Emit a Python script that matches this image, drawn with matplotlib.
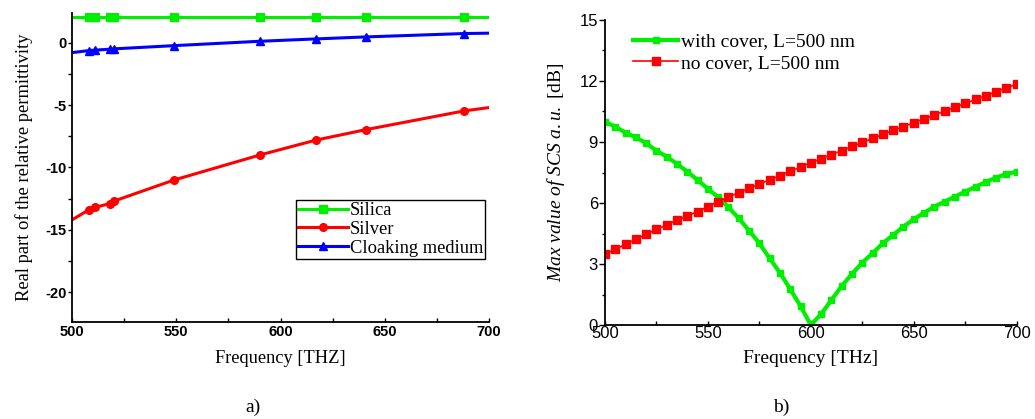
import numpy as np
import matplotlib.pyplot as plt
from matplotlib.ticker import MultipleLocator

plt.rcParams['mathtext.fontset'] = 'custom'
plt.rcParams['mathtext.rm'] = 'Liberation Serif'
plt.rcParams['mathtext.it'] = 'Liberation Serif:italic'
plt.rcParams['axes.unicode_minus'] = False

# a) real part of relative permittivity
freq_a = [500, 508, 511, 518, 520, 549, 590, 617, 641, 688, 700]
silica = [2.1, 2.1, 2.1, 2.1, 2.1, 2.1, 2.1, 2.1, 2.1, 2.1, 2.1]
silver = [-14.2, -13.4, -13.2, -12.9, -12.7, -11.0, -9.0, -7.8, -6.96, -5.46, -5.19]
cloak = [-0.78, -0.62, -0.58, -0.51, -0.48, -0.22, 0.13, 0.32, 0.48, 0.75, 0.78]
marks_a = [1, 2, 3, 4, 5, 6, 7, 8, 9]

# b) max value of SCS
freq_b = list(range(500, 701, 5))
with_cover = [10.0, 9.75, 9.46, 9.23, 8.94, 8.57, 8.28, 7.92, 7.54, 7.13,
              6.70, 6.28, 5.79, 5.25, 4.64, 4.02, 3.28, 2.57, 1.76, 0.93,
              0.0, 0.54, 1.23, 1.92, 2.51, 3.07, 3.53, 4.02, 4.43, 4.84,
              5.20, 5.52, 5.82, 6.07, 6.31, 6.56, 6.80, 7.03, 7.25, 7.43, 7.54]
no_cover = [3.48, 3.72, 3.97, 4.22, 4.46, 4.70, 4.93, 5.15, 5.37, 5.58,
            5.82, 6.07, 6.30, 6.51, 6.72, 6.93, 7.14, 7.35, 7.56, 7.77,
            7.98, 8.18, 8.38, 8.58, 8.78, 8.98, 9.18, 9.37, 9.57, 9.76,
            9.95, 10.14, 10.33, 10.52, 10.71, 10.90, 11.09, 11.28, 11.47, 11.66, 11.85]

GREEN = '#00ee00'
RED = '#ff0000'
BLUE = '#0000ff'
serif = 'Liberation Serif'
sans = 'Liberation Sans'

fig = plt.figure(figsize=(10.35, 4.19), dpi=100)
ax1 = fig.add_axes([0.0696, 0.2315, 0.4029, 0.7375])
ax2 = fig.add_axes([0.5845, 0.2243, 0.3978, 0.728])

ax1.plot(freq_a, silica, color=GREEN, lw=2.2, marker='s', ms=5.5, markevery=marks_a, label='Silica')
ax1.plot(freq_a, silver, color=RED, lw=2.2, marker='o', ms=5.5, markevery=marks_a, label='Silver')
ax1.plot(freq_a, cloak, color=BLUE, lw=2.2, marker='^', ms=6, markevery=marks_a, label='Cloaking medium')
ax1.set_xlim(500, 700)
ax1.set_ylim(-22.4, 2.4)
ax1.xaxis.set_major_locator(MultipleLocator(50))
ax1.xaxis.set_minor_locator(MultipleLocator(25))
ax1.yaxis.set_major_locator(MultipleLocator(5))
ax1.yaxis.set_minor_locator(MultipleLocator(2.5))
ax1.tick_params(axis='y', which='both', direction='out', length=3, width=1, pad=1)
ax1.tick_params(axis='x', which='both', direction='in', length=3, width=1, pad=2)
for lab in ax1.get_xticklabels() + ax1.get_yticklabels():
    lab.set_fontfamily(sans)
    lab.set_fontweight('bold')
    lab.set_fontsize(10.5)
for s in ['top', 'right']:
    ax1.spines[s].set_visible(False)
for s in ['left', 'bottom']:
    ax1.spines[s].set_linewidth(1.3)
ax1.set_xlabel('Frequency [THZ]', fontfamily=serif, fontsize=13.2, labelpad=8)
ax1.set_ylabel('Real part of the relative permittivity', fontfamily=serif, fontsize=13.3, labelpad=9)
leg1 = ax1.legend(loc='lower right', bbox_to_anchor=(0.99, 0.205), prop={'family': serif, 'size': 13.3},
                  fancybox=False, edgecolor='black', framealpha=1, borderpad=0.1, labelspacing=0.1,
                  handlelength=2.7, handletextpad=0.1, borderaxespad=0)
leg1.get_frame().set_linewidth(1.0)

ax2.plot(freq_b, with_cover, color=GREEN, lw=3, marker='s', ms=5, label='with cover, L=500 nm')
ax2.plot(freq_b, no_cover, color=RED, lw=1.2, marker='s', ms=5.5, label='no cover, L=500 nm')
ax2.set_xlim(500, 700)
ax2.set_ylim(0, 15)
ax2.xaxis.set_major_locator(MultipleLocator(50))
ax2.xaxis.set_minor_locator(MultipleLocator(25))
ax2.yaxis.set_major_locator(MultipleLocator(3))
ax2.yaxis.set_minor_locator(MultipleLocator(1.5))
ax2.tick_params(axis='y', which='major', direction='out', length=4, width=1, pad=1)
ax2.tick_params(axis='y', which='minor', direction='out', length=2, width=1)
ax2.tick_params(axis='x', which='both', direction='in', length=3, width=1, pad=1)
for lab in ax2.get_xticklabels() + ax2.get_yticklabels():
    lab.set_fontfamily(sans)
    lab.set_fontsize(12)
for s in ['top', 'right']:
    ax2.spines[s].set_visible(False)
for s in ['left', 'bottom']:
    ax2.spines[s].set_linewidth(1.3)
ax2.set_xlabel('Frequency [THz]', fontfamily=serif, fontsize=14, labelpad=6)
ax2.set_ylabel(r'$\mathit{Max\ value\ of\ SCS\ a.u.}$ [dB]', fontfamily=serif, fontsize=14, labelpad=9)
ax2.legend(loc='upper left', bbox_to_anchor=(0.045, 0.99), prop={'family': serif, 'size': 14},
           frameon=False, borderpad=0, labelspacing=0.2, handlelength=2.3, handletextpad=0.15)

fig.text(253 / 1035, 1 - 407 / 419, 'a)', ha='center', va='center', fontfamily=serif, fontsize=14)
fig.text(781 / 1035, 1 - 407 / 419, 'b)', ha='center', va='center', fontfamily=serif, fontsize=14)

fig.savefig('out.png', dpi=100)
